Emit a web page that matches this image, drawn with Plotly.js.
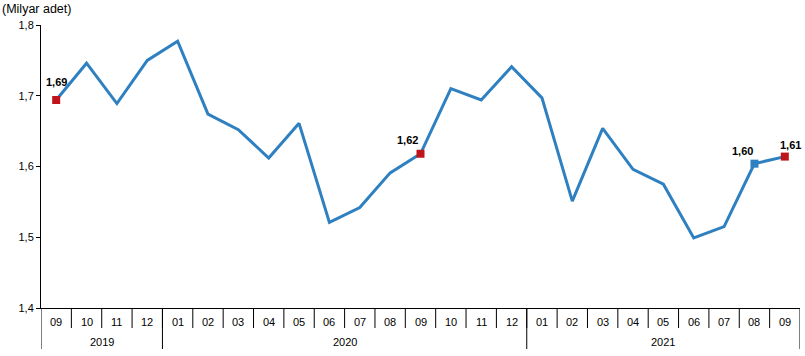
<!DOCTYPE html>
<html>
<head>
<meta charset="utf-8">
<script src="https://cdn.plot.ly/plotly-3.0.1.min.js"></script>
<style>html,body{margin:0;padding:0;background:#fff;}#chart{width:805px;height:356px;}</style>
</head>
<body>
<div id="chart"></div>
<script>
// Data
var months = ["09","10","11","12","01","02","03","04","05","06","07","08","09","10","11","12","01","02","03","04","05","06","07","08","09"];
var years = ["2019","2020","2021"];
var yearStart = [0, 4, 16];
var yearEnd = [3, 15, 24];
var values = [1.694,1.746,1.689,1.750,1.777,1.674,1.652,1.612,1.661,1.521,1.542,1.591,1.618,1.710,1.694,1.741,1.697,1.551,1.654,1.596,1.575,1.499,1.515,1.604,1.614];
var markedIdx = [0, 12, 23, 24];
var markedColor = ["#C0141C", "#C0141C", "#2E80C0", "#C0141C"];
var labelShiftX = [0, -13, -12, 6];
var labelShiftY = [18, 14, 13, 12];
var yTicks = [1.4, 1.5, 1.6, 1.7, 1.8];

var xs = months.map(function(_, i){ return i; });
var H = 283; // plot height in px
function py(px){ return -px / H; }

var traces = [
  {x: xs, y: values, type: 'scatter', mode: 'lines',
   line: {color: '#2E80C0', width: 3}, hoverinfo: 'skip'},
  {x: markedIdx, y: markedIdx.map(function(i){return values[i];}), type: 'scatter', mode: 'markers',
   marker: {symbol: 'square', size: 8, color: markedColor}, hoverinfo: 'skip'}
];

var shapes = [];
var annotations = [];
// month separators
for (var i = 0; i < months.length - 1; i++) {
  shapes.push({type: 'line', xref: 'x', yref: 'paper', x0: i + 0.5, x1: i + 0.5, y0: 0, y1: py(20), line: {color: '#000', width: 1}});
}
// year separators (incl. outer edges)
var yb = [-0.5];
yearEnd.forEach(function(e){ yb.push(e + 0.5); });
yb.forEach(function(b){
  shapes.push({type: 'line', xref: 'x', yref: 'paper', x0: b, x1: b, y0: 0, y1: py(41), line: {color: '#000', width: 1}});
});
// month labels
months.forEach(function(m, i){
  annotations.push({xref: 'x', yref: 'paper', x: i, y: py(14), text: m, showarrow: false,
    font: {size: 11, color: '#000'}, xanchor: 'center', yanchor: 'middle'});
});
// year labels
years.forEach(function(yv, k){
  annotations.push({xref: 'x', yref: 'paper', x: (yearStart[k] + yearEnd[k]) / 2, y: py(34), text: yv, showarrow: false,
    font: {size: 11, color: '#000'}, xanchor: 'center', yanchor: 'middle'});
});
// data labels
markedIdx.forEach(function(idx, k){
  annotations.push({xref: 'x', yref: 'y', x: idx, y: values[idx], text: '<b>' + values[idx].toFixed(2).replace('.', ',') + '</b>',
    showarrow: false, xshift: labelShiftX[k], yshift: labelShiftY[k], font: {size: 11, color: '#000'},
    xanchor: 'center', yanchor: 'middle'});
});
// unit title
annotations.push({xref: 'paper', yref: 'paper', x: -41/759, y: 1 + 16/H, text: '(Milyar adet)', showarrow: false,
  xanchor: 'left', yanchor: 'middle', font: {size: 12.5, color: '#000'}});

var layout = {
  width: 805, height: 356,
  margin: {l: 41, r: 5, t: 25, b: 48, pad: 0},
  paper_bgcolor: '#fff', plot_bgcolor: '#fff',
  font: {family: '"Liberation Sans", Arial, sans-serif', color: '#000', size: 11},
  separators: ',.',
  showlegend: false,
  xaxis: {range: [-0.5, 24.5], showline: true, linecolor: '#000', linewidth: 1, showgrid: false, zeroline: false,
    showticklabels: false, ticks: '', fixedrange: true},
  yaxis: {range: [1.4, 1.8], tickvals: yTicks, tickformat: '.1f', showline: true, linecolor: '#000', linewidth: 1,
    showgrid: false, zeroline: false, ticks: 'outside', ticklen: 4, tickcolor: '#000', tickfont: {size: 11},
    fixedrange: true},
  shapes: shapes,
  annotations: annotations
};

Plotly.newPlot('chart', traces, layout, {displayModeBar: false, staticPlot: true});
</script>
</body>
</html>
